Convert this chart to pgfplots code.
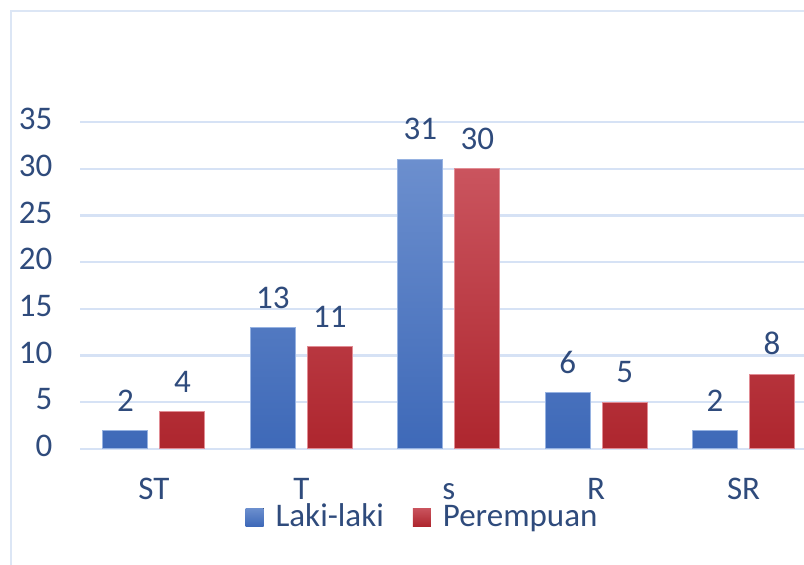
\documentclass[border=0pt]{standalone}
\usepackage{pgfplots}
\pgfplotsset{compat=1.18}
\usepackage{fontspec}
\setmainfont{Carlito}
\definecolor{txt}{RGB}{47,75,124}
\definecolor{gridc}{RGB}{214,226,245}
\definecolor{framec}{RGB}{220,230,245}
\definecolor{btop}{RGB}{108,143,206}
\definecolor{bbot}{RGB}{62,105,184}
\definecolor{bedge}{RGB}{150,178,225}
\definecolor{rtop}{RGB}{202,84,94}
\definecolor{rbot}{RGB}{174,38,46}
\definecolor{redge}{RGB}{225,140,148}
\begin{document}
\begin{tikzpicture}
\useasboundingbox (-40.15pt,-58pt) rectangle (361.85pt,224.5pt);
\draw[framec, line width=1.2pt] (-34.65pt,-60pt) -- (-34.65pt,219pt) -- (365pt,219pt);
\begin{axis}[
  at={(0pt,0pt)}, anchor=south west,
  scale only axis, width=361.85pt, height=163.5pt,
  xmin=-0.5, xmax=4.41, ymin=0, ymax=35,
  enlargelimits=false, clip=false,
  axis line style={draw=none},
  major tick length=0pt,
  ytick={0,5,...,35},
  xtick={0,1,2,3,4},
  xticklabels={ST,T,s,R,SR},
  ymajorgrids, grid style={color=gridc, line width=1.2pt},
  /pgf/number format/assume math mode=true,
  ticklabel style={font=\fontsize{16.5}{19}\selectfont, text=txt},
  yticklabel style={xshift=-10.5pt},
  typeset ticklabels with strut,
  xticklabel style={yshift=-8.2pt},
  ybar=6pt, bar width=22.5pt,
  nodes near coords,
  every node near coord/.append style={font=\fontsize{16.5}{19}\selectfont, text=txt, yshift=6pt},
  legend columns=2,
  legend style={at={(0.4742,-0.208)}, anchor=center, draw=none, fill=none,
    font=\fontsize{16.5}{19}\selectfont, text=txt,
    /tikz/every even column/.append style={column sep=12.5pt}},
  legend image code/.code={\path[draw=none, fill=none] (0pt,0pt) -- (13pt,0pt);\fill[#1, draw=none] (0pt,-4.5pt) rectangle (9pt,4.5pt);},
]
\addplot[top color=btop, bottom color=bbot, draw=bedge, line width=0.5pt]
  coordinates {(0,2) (1,13) (2,31) (3,6) (4,2)};
\addlegendentry{Laki-laki}
\addplot[top color=rtop, bottom color=rbot, draw=redge, line width=0.5pt]
  coordinates {(0,4) (1,11) (2,30) (3,5) (4,8)};
\addlegendentry{Perempuan}
\end{axis}
\end{tikzpicture}
\end{document}
